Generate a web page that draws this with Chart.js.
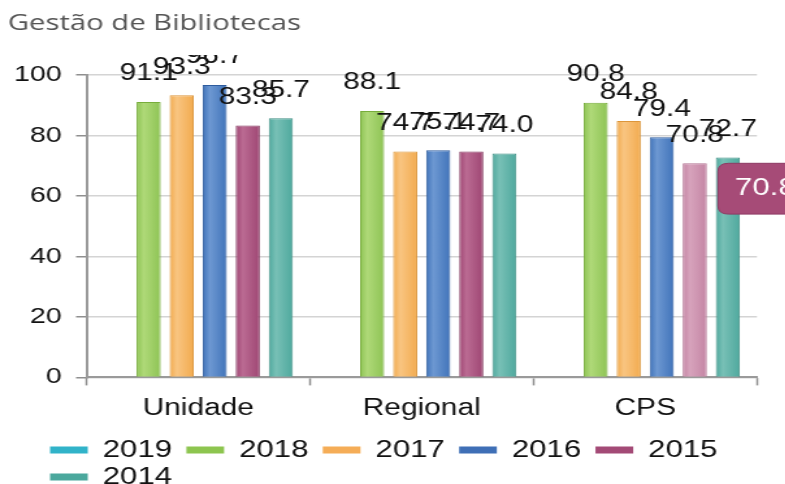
<!DOCTYPE html>
<html>
<head>
<meta charset="utf-8">
<script src="https://cdn.jsdelivr.net/npm/chart.js@4.4.1/dist/chart.umd.min.js"></script>
<style>
  html, body { margin: 0; padding: 0; background: #ffffff; overflow: hidden; }
  #wrap { position: absolute; left: 0; top: 0; width: 785px; height: 484px; overflow: hidden; }
</style>
</head>
<body>
<div id="wrap"><canvas id="c" width="640" height="484" style="display:block;width:832px;height:484px;"></canvas></div>
<script>
// ---- data ----
const chartTitle = 'Gestão de Bibliotecas';
const categories = ['Unidade', 'Regional', 'CPS'];
const years = ['2019', '2018', '2017', '2016', '2015', '2014'];
const v2019 = [null, null, null];
const v2018 = [91.1, 88.1, 90.8];
const v2017 = [93.3, 74.7, 84.8];
const v2016 = [96.7, 75.1, 79.4];
const v2015 = [83.3, 74.7, 70.8];
const v2014 = [85.7, 74.0, 72.7];
const yTicks = [0, 20, 40, 60, 80, 100];
const tooltipSeries = '2015';
const tooltipCategory = 'CPS';

// ---- styles ----
const fills   = ['#2bb0c6', '#8ec455', '#f2ab4f', '#4174ba', '#9e4673', '#4fa99e'];
const lights  = ['#5cc6d8', '#afd978', '#f9c581', '#6d98d2', '#bb6b93', '#78c0b6'];
const borders = ['#1f93a6', '#78ad3c', '#dc963b', '#2e5c9e', '#843a60', '#3e8f84'];
const hoverFill  = '#c485a4';
const hoverLight = '#d7a3bc';
const legendCols = ['#31b3c9', '#8dc54f', '#f5ad57', '#3f6fb6', '#a34a76', '#4ba89d'];
const seriesValues = [v2019, v2018, v2017, v2016, v2015, v2014];
const FONT = "'Liberation Sans', Arial, sans-serif";
const CAT_PCT = 0.887, BAR_PCT = 0.73;

function barGradient(ctx, base, light) {
  const chart = ctx.chart;
  const xs = chart.scales && chart.scales.x;
  if (!xs || ctx.type !== 'data' || !isFinite(xs.width) || xs.width <= 0) return base;
  const catW = xs.width / categories.length;
  const groupW = catW * CAT_PCT;
  const slotW = groupW / years.length;
  const barW = slotW * BAR_PCT;
  const cx = xs.getPixelForValue(ctx.dataIndex) - groupW / 2 + slotW * (ctx.datasetIndex + 0.5);
  const g = chart.ctx.createLinearGradient(cx - barW / 2, 0, cx + barW / 2, 0);
  g.addColorStop(0, base);
  g.addColorStop(0.3, light);
  g.addColorStop(1, base);
  return g;
}

const datasets = years.map((y, i) => ({
  label: y,
  data: seriesValues[i],
  backgroundColor: (c) => barGradient(c, fills[i], lights[i]),
  borderColor: borders[i],
  hoverBackgroundColor: i === 4 ? (c) => barGradient(c, hoverFill, hoverLight) : (c) => barGradient(c, fills[i], lights[i]),
  hoverBorderColor: i === 4 ? '#b47493' : borders[i],
  borderWidth: 1,
  categoryPercentage: CAT_PCT,
  barPercentage: BAR_PCT
}));

const valueLabels = {
  id: 'valueLabels',
  afterDatasetsDraw(chart) {
    const ctx = chart.ctx;
    ctx.save();
    ctx.beginPath();
    ctx.rect(0, 55, chart.width, chart.height - 55);
    ctx.clip();
    ctx.font = '23px ' + FONT;
    ctx.fillStyle = '#111111';
    ctx.textAlign = 'center';
    ctx.textBaseline = 'middle';
    chart.data.datasets.forEach((ds, di) => {
      const meta = chart.getDatasetMeta(di);
      meta.data.forEach((bar, j) => {
        const v = ds.data[j];
        if (v === null || v === undefined) return;
        ctx.fillText(v.toFixed(1), bar.x, bar.y - 28);
      });
    });
    ctx.restore();
  }
};

const customLegend = {
  id: 'customLegend',
  afterDraw(chart) {
    const ctx = chart.ctx;
    ctx.save();
    ctx.font = '24px ' + FONT;
    ctx.textBaseline = 'middle';
    ctx.textAlign = 'left';
    const startX = 38.5, boxW = 29, boxH = 7, gap = 11.5, pad = 11;
    const rowY = [450, 477];
    const maxX = 604;
    let x = startX, row = 0;
    years.forEach((y, i) => {
      const tw = ctx.measureText(y).width;
      const w = boxW + gap + tw;
      if (i > 0 && x + w > maxX) { row++; x = startX; }
      const cy = rowY[row] !== undefined ? rowY[row] : rowY[0] + row * 27;
      ctx.fillStyle = legendCols[i];
      ctx.fillRect(x, cy - boxH / 2, boxW, boxH);
      ctx.fillStyle = '#111111';
      ctx.fillText(y, x + boxW + gap, cy);
      x += w + pad;
    });
    ctx.restore();
  }
};

Chart.Tooltip.positioners.besideBar = function(elements) {
  if (!elements.length) return false;
  const el = elements[0].element;
  return { x: el.x + el.width / 2 + 8.6 + 8, y: el.y };
};

const chart = new Chart(document.getElementById('c'), {
  type: 'bar',
  data: { labels: categories, datasets: datasets },
  options: {
    responsive: false,
    animation: false,
    events: [],
    layout: { padding: { left: 6, right: 57.7, top: 0, bottom: 53 } },
    plugins: {
      legend: { display: false },
      title: {
        display: true,
        text: chartTitle,
        align: 'start',
        color: '#555555',
        font: { family: "'Open Sans', 'Noto Sans', sans-serif", size: 22.5, weight: 'normal' },
        padding: { top: 10, bottom: 38 }
      },
      tooltip: {
        enabled: true,
        position: 'besideBar',
        xAlign: 'left',
        yAlign: 'top',
        caretSize: 0,
        caretPadding: 0,
        cornerRadius: 8,
        displayColors: false,
        backgroundColor: '#a64b77',
        borderColor: '#8e3a63',
        borderWidth: 1,
        bodyColor: '#ffffff',
        bodyFont: { family: FONT, size: 24 },
        padding: { left: 13, right: 13, top: 11, bottom: 11 },
        callbacks: {
          title: () => '',
          label: (c) => c.parsed.y.toFixed(1)
        }
      }
    },
    scales: {
      x: {
        grid: { offset: true, drawOnChartArea: false, drawTicks: true, tickLength: 8, tickColor: '#8f8f8f', tickWidth: 1.5 },
        border: { display: true, color: '#9a9a9a', width: 2 },
        ticks: { color: '#111111', font: { family: FONT, size: 23 }, padding: 9 }
      },
      y: {
        min: 0,
        max: 100,
        afterBuildTicks(scale) { scale.ticks = yTicks.map(v => ({ value: v })); },
        afterFit(scale) { scale.width = 60.5; },
        grid: { color: '#d4d4d4', lineWidth: 1.5, drawTicks: true, tickLength: 8, tickColor: '#8f8f8f', tickWidth: 1.5 },
        border: { display: true, color: '#9a9a9a', width: 2 },
        ticks: { color: '#111111', font: { family: FONT, size: 22 }, padding: 11 }
      }
    }
  },
  plugins: [valueLabels, customLegend]
});

const dsIdx = years.indexOf(tooltipSeries);
const catIdx = categories.indexOf(tooltipCategory);
chart.setActiveElements([{ datasetIndex: dsIdx, index: catIdx }]);
chart.tooltip.setActiveElements([{ datasetIndex: dsIdx, index: catIdx }], { x: 0, y: 0 });
chart.update();
</script>
</body>
</html>
